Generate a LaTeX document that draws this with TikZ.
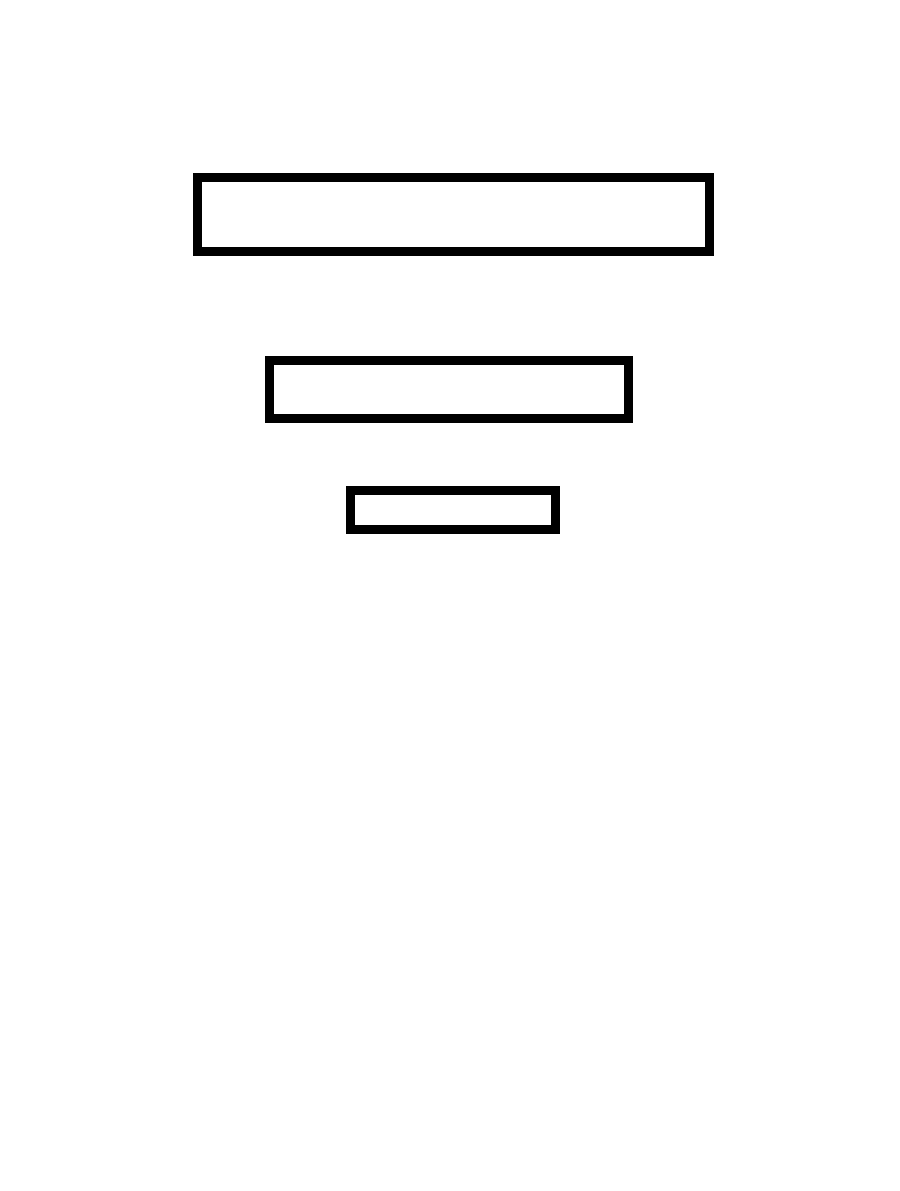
\documentclass[tikz,border=0pt]{standalone}
\usepackage{xcolor}
\usepackage{tikz}
\usetikzlibrary{positioning,calc}

\begin{document}
\begin{tikzpicture}[
        tier/.style={draw=black, line width=4.5pt, inner sep=0pt, outer sep=0pt}
    ]
        % Page frame
        \useasboundingbox (0,0) rectangle (450pt,-595.5pt);
        % Boxes
        \node[tier, minimum width=256.2pt, minimum height=37.2pt] (top) at (226.7pt,-107.2pt) {};
        \node[tier, minimum width=179.4pt, minimum height=28.9pt] (middle) at (224.4pt,-194.7pt) {};
        \node[tier, minimum width=102.7pt, minimum height=19.7pt] (bottom) at (226.4pt,-255.1pt) {};
        \end{tikzpicture}
\end{document}
